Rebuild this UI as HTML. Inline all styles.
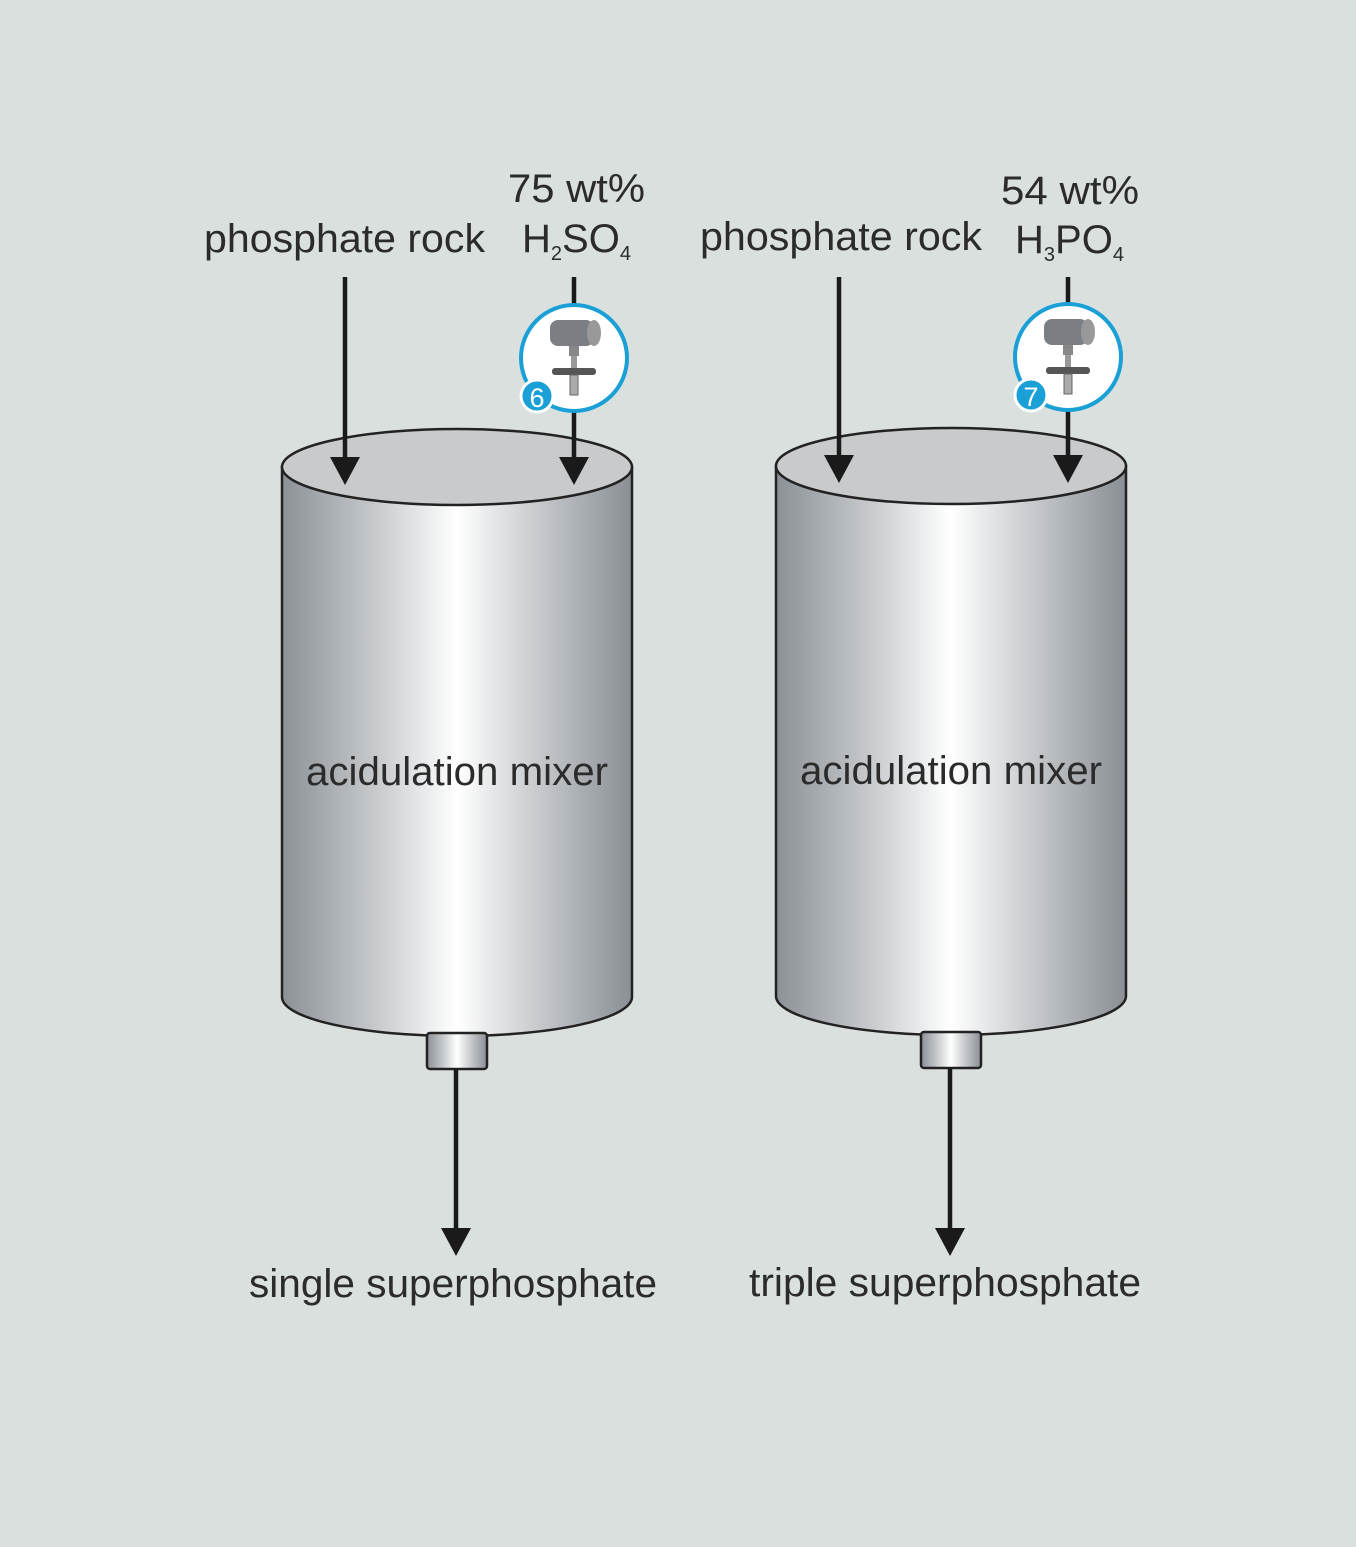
<!DOCTYPE html>
<html><head><meta charset="utf-8"><style>
html,body{margin:0;padding:0;background:#d9e0de;}
svg{display:block;}
text{font-family:"Liberation Sans",sans-serif;fill:#2b2b2b;}
</style></head><body>
<svg width="1356" height="1547" viewBox="0 0 1356 1547" xmlns="http://www.w3.org/2000/svg">
<defs>
<linearGradient id="body" x1="0" x2="1" y1="0" y2="0">
<stop offset="0" stop-color="#8c9196"/>
<stop offset="0.25" stop-color="#c2c6c9"/>
<stop offset="0.5" stop-color="#ffffff"/>
<stop offset="0.75" stop-color="#c2c6c9"/>
<stop offset="1" stop-color="#8a8f94"/>
</linearGradient>
<g id="cyl">
<path d="M0,0 L0,530 A175,39 0 0 0 350,530 L350,0 Z" fill="url(#body)" stroke="#222" stroke-width="2.5"/>
<ellipse cx="175" cy="0" rx="175" ry="38" fill="#c8cacb" stroke="#222" stroke-width="2.5"/>
<rect x="145" y="566" width="60" height="36" rx="3" fill="url(#body)" stroke="#222" stroke-width="2.5"/>
</g>
<g id="sensor">
<circle cx="0" cy="0" r="53" fill="#fff" stroke="#1a9fd6" stroke-width="4"/>
<rect x="-24" y="-38" width="44" height="26" rx="8" fill="#7b7f83"/>
<ellipse cx="20" cy="-25" rx="7" ry="13" fill="#999"/>
<rect x="-5" y="-12" width="10" height="10" fill="#888"/>
<rect x="-3" y="-2" width="6" height="14" fill="#999"/>
<rect x="-22" y="10" width="44" height="7" rx="3" fill="#555"/>
<rect x="-4" y="17" width="8" height="20" fill="#aaa" stroke="#666"/>
<circle cx="-37" cy="38" r="16" fill="#1a9fd6" stroke="#fff" stroke-width="3"/>
</g>
</defs>
<rect x="0" y="0" width="1356" height="1547" fill="#d9e0de"/>

<use href="#cyl" x="282" y="467"/>
<use href="#cyl" x="776" y="466"/>

<g stroke="#1a1a1a" stroke-width="4.5">
<line x1="345" y1="277" x2="345" y2="460"/>
<line x1="574" y1="277" x2="574" y2="460"/>
<line x1="839" y1="277" x2="839" y2="460"/>
<line x1="1068" y1="277" x2="1068" y2="460"/>
<line x1="456" y1="1068" x2="456" y2="1232"/>
<line x1="950" y1="1068" x2="950" y2="1232"/>
</g>
<g fill="#1a1a1a">
<polygon points="330,457 360,457 345,485"/>
<polygon points="559,457 589,457 574,485"/>
<polygon points="824,455 854,455 839,483"/>
<polygon points="1053,455 1083,455 1068,483"/>
<polygon points="441,1228 471,1228 456,1256"/>
<polygon points="935,1228 965,1228 950,1256"/>
</g>

<use href="#sensor" x="574" y="358"/>
<use href="#sensor" x="1068" y="357"/>
<text x="537" y="407" font-size="27" text-anchor="middle" style="fill:#fff">6</text>
<text x="1031" y="406" font-size="27" text-anchor="middle" style="fill:#fff">7</text>

<text x="204" y="252" font-size="40" textLength="281" lengthAdjust="spacingAndGlyphs">phosphate rock</text>
<text x="508" y="202" font-size="40" textLength="137" lengthAdjust="spacingAndGlyphs">75 wt%</text>
<text x="522" y="252" font-size="40">H<tspan font-size="20" dy="8">2</tspan><tspan dy="-8">SO</tspan><tspan font-size="20" dy="8">4</tspan></text>

<text x="700" y="250" font-size="40" textLength="282" lengthAdjust="spacingAndGlyphs">phosphate rock</text>
<text x="1001" y="204" font-size="40" textLength="138" lengthAdjust="spacingAndGlyphs">54 wt%</text>
<text x="1015" y="253" font-size="40">H<tspan font-size="20" dy="8">3</tspan><tspan dy="-8">PO</tspan><tspan font-size="20" dy="8">4</tspan></text>

<text x="306" y="785" font-size="40" textLength="302" lengthAdjust="spacingAndGlyphs">acidulation mixer</text>
<text x="800" y="784" font-size="40" textLength="302" lengthAdjust="spacingAndGlyphs">acidulation mixer</text>

<text x="249" y="1297" font-size="40" textLength="408" lengthAdjust="spacingAndGlyphs">single superphosphate</text>
<text x="749" y="1296" font-size="40" textLength="392" lengthAdjust="spacingAndGlyphs">triple superphosphate</text>
</svg>
</body></html>
